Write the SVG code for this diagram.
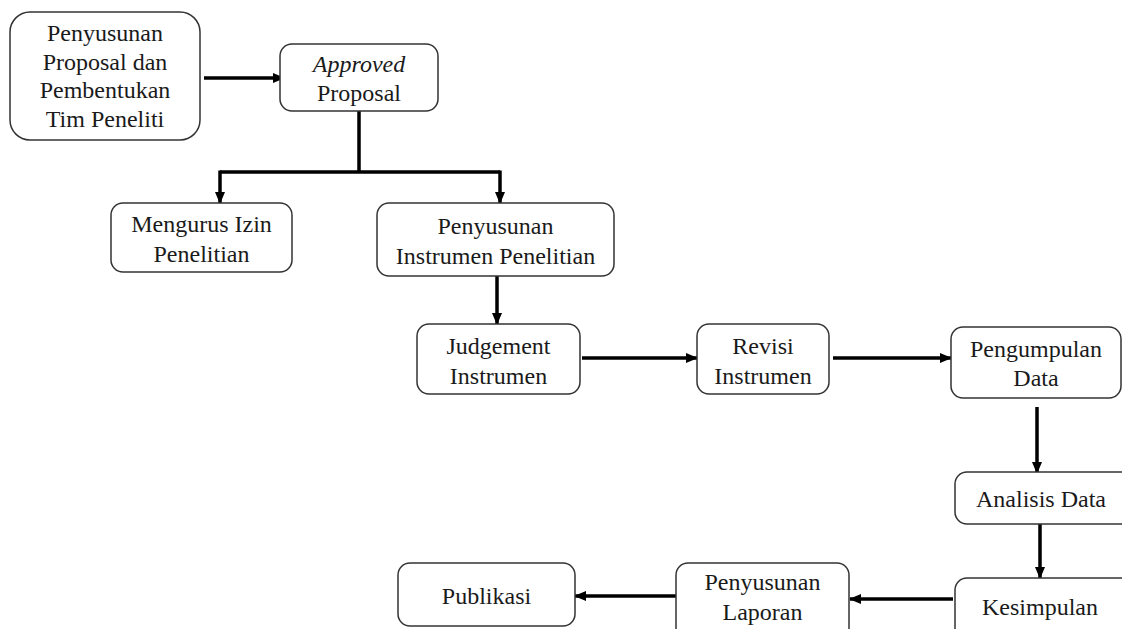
<svg xmlns="http://www.w3.org/2000/svg" width="1122" height="629" viewBox="0 0 1122 629">
<defs>
<marker id="ah" markerUnits="userSpaceOnUse" markerWidth="12" markerHeight="12" viewBox="0 0 12 12" refX="11" refY="6" orient="auto">
<path d="M0,1 L12,6 L0,11 Z" fill="#000"/>
</marker>
</defs>
<style>
.box{fill:#fff;stroke:#333;stroke-width:1.5}
.t{font-family:"Liberation Serif","Times New Roman",serif;font-size:24px;fill:#1a1a1a;text-anchor:middle}
.c{fill:none;stroke:#000;stroke-width:3.5}
</style>
<rect width="1122" height="629" fill="#fff"/>
<g id="connectors">
<path class="c" d="M204,78 H284" marker-end="url(#ah)"/>
<path class="c" d="M359,111 V172 M220,172 H500"/>
<path class="c" d="M220,170.5 V203" marker-end="url(#ah)"/>
<path class="c" d="M500,170.5 V203" marker-end="url(#ah)"/>
<path class="c" d="M497,276 V324" marker-end="url(#ah)"/>
<path class="c" d="M582,358 H697" marker-end="url(#ah)"/>
<path class="c" d="M833,358 H951" marker-end="url(#ah)"/>
<path class="c" d="M1037,407 V473" marker-end="url(#ah)"/>
<path class="c" d="M1040,524 V578" marker-end="url(#ah)"/>
<path class="c" d="M953,599 H850" marker-end="url(#ah)"/>
<path class="c" d="M676,596 H575" marker-end="url(#ah)"/>
</g>
<g id="n1">
<rect class="box" x="10" y="12" width="190" height="128" rx="20"/>
<text class="t" x="105" y="41">Penyusunan</text>
<text class="t" x="105" y="70">Proposal dan</text>
<text class="t" x="105" y="98">Pembentukan</text>
<text class="t" x="105" y="127">Tim Peneliti</text>
</g>
<g id="n2">
<rect class="box" x="280" y="44" width="158" height="67" rx="12"/>
<text class="t" x="359" y="72" font-style="italic">Approved</text>
<text class="t" x="359" y="101">Proposal</text>
</g>
<g id="n3">
<rect class="box" x="111" y="203" width="181" height="69" rx="12"/>
<text class="t" x="201.5" y="232">Mengurus Izin</text>
<text class="t" x="201.5" y="262">Penelitian</text>
</g>
<g id="n4">
<rect class="box" x="377" y="203" width="237" height="73" rx="12"/>
<text class="t" x="495.5" y="234">Penyusunan</text>
<text class="t" x="495.5" y="264">Instrumen Penelitian</text>
</g>
<g id="n5">
<rect class="box" x="417" y="324" width="163" height="70" rx="12"/>
<text class="t" x="498.5" y="354">Judgement</text>
<text class="t" x="498.5" y="384">Instrumen</text>
</g>
<g id="n6">
<rect class="box" x="697" y="324" width="132" height="70" rx="12"/>
<text class="t" x="763" y="354">Revisi</text>
<text class="t" x="763" y="384">Instrumen</text>
</g>
<g id="n7">
<rect class="box" x="951" y="327" width="170" height="71" rx="12"/>
<text class="t" x="1036" y="357">Pengumpulan</text>
<text class="t" x="1036" y="386">Data</text>
</g>
<g id="n8">
<rect class="box" x="955" y="472" width="180" height="52" rx="12"/>
<text class="t" x="1041" y="507">Analisis  Data</text>
</g>
<g id="n9">
<rect class="box" x="955" y="578" width="180" height="70" rx="12"/>
<text class="t" x="1040" y="615">Kesimpulan</text>
</g>
<g id="n10">
<rect class="box" x="676" y="563" width="173" height="80" rx="12"/>
<text class="t" x="762.5" y="590">Penyusunan</text>
<text class="t" x="762.5" y="620">Laporan</text>
</g>
<g id="n11">
<rect class="box" x="398" y="563" width="177" height="63" rx="12"/>
<text class="t" x="486.5" y="604">Publikasi</text>
</g>
</svg>
